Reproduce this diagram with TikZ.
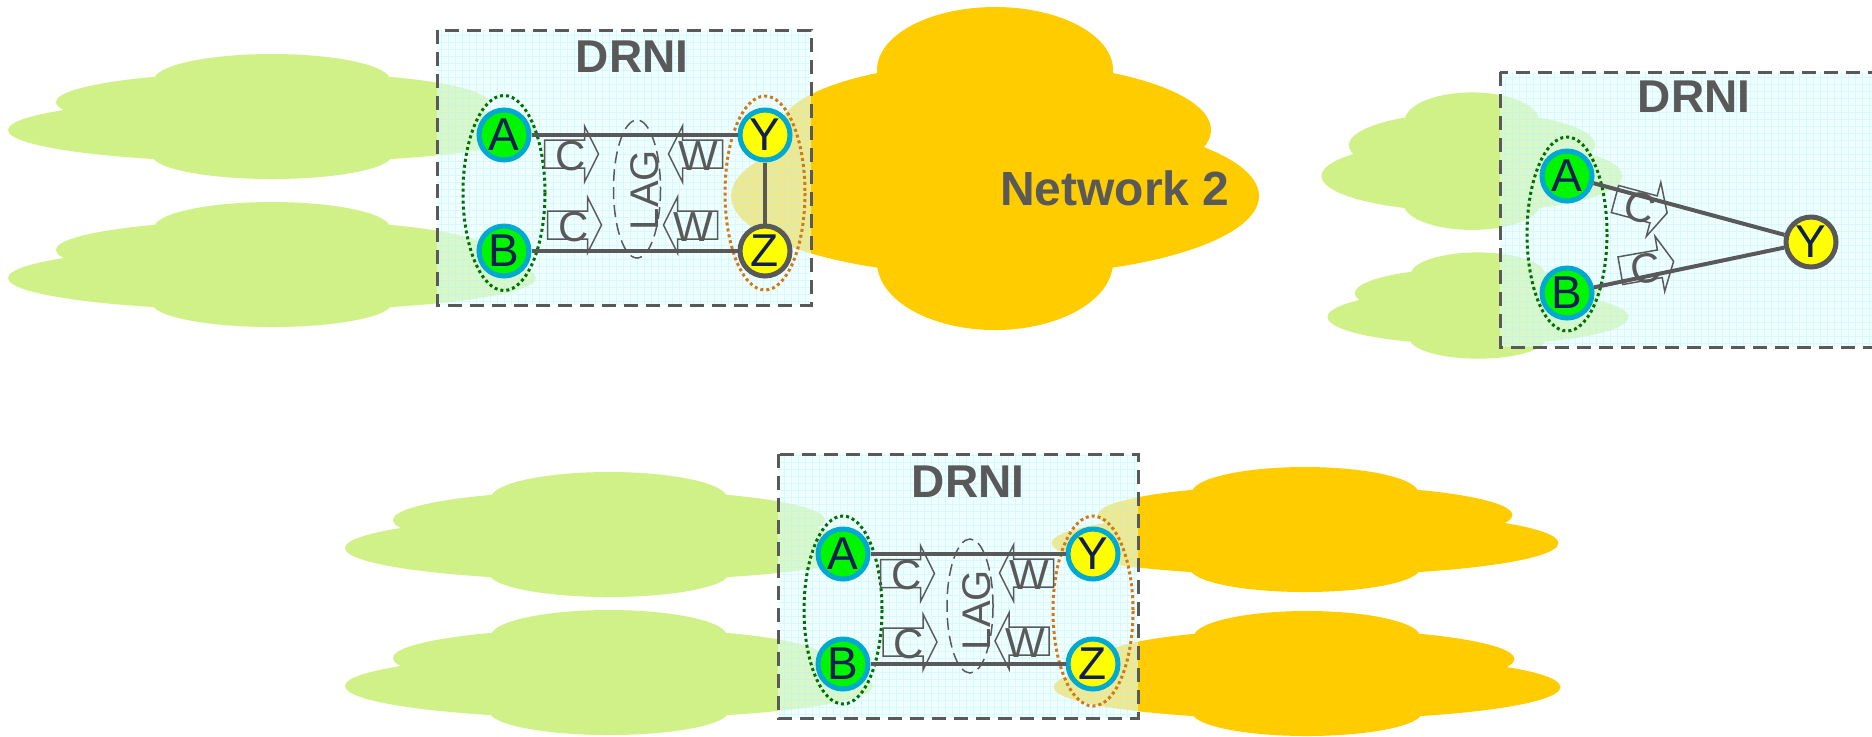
\documentclass[tikz,border=0pt]{standalone}
\usepackage{fontspec}
\setmainfont{Liberation Sans}

\definecolor{cloudgreen}{RGB}{208,240,136}
\definecolor{netorange}{RGB}{255,204,0}
\definecolor{boxcyan}{RGB}{226,255,255}
\definecolor{gridcyan}{RGB}{180,240,255}
\definecolor{ink}{RGB}{89,89,89}
\definecolor{rimcyan}{RGB}{0,168,210}
\definecolor{devgreen}{RGB}{0,245,0}
\definecolor{devyellow}{RGB}{255,255,0}
\definecolor{letter}{RGB}{16,32,84}
\definecolor{dotgreen}{RGB}{0,112,0}
\definecolor{dotorange}{RGB}{210,120,20}

\tikzset{
  % a network cloud: union of four ellipses, centred on the main ellipse
  cloud/.pic={
    \fill (0,0) ellipse [x radius=264, y radius=32.5]
          (0,-28) ellipse [x radius=216, y radius=30]
          (0,-50) ellipse [x radius=118, y radius=26]
          (0,25) ellipse [x radius=120, y radius=24];
  },
  % block arrows carrying a label
  rarrow/.pic={
    \draw[arrowline] (-27,-14) -- (13,-14) -- (13,-28) -- (27,0) -- (13,28) -- (13,14) -- (-27,14) -- cycle;
    \node[arrowtext, transform shape] at (-1,2) {\tikzpictext};
  },
  larrow/.pic={
    \draw[arrowline] (27,-14) -- (-13,-14) -- (-13,-28) -- (-27,0) -- (-13,28) -- (-13,14) -- (27,14) -- cycle;
    \node[arrowtext, transform shape] at (3,2) {\tikzpictext};
  },
  drnibox/.style={draw=ink, line width=1.5pt, dash pattern=on 7pt off 4pt},
  boxfill/.style={fill=boxcyan, fill opacity=0.55},
  gridline/.style={draw=gridcyan, line width=0.3pt, opacity=0.4},
  title/.style={text=ink, inner sep=0pt, font=\bfseries\fontsize{23}{23}\selectfont},
  dev/.style={circle, draw=rimcyan, line width=2.5pt, minimum size=25pt, inner sep=0pt,
              text=letter, font=\fontsize{23}{23}\selectfont},
  devA/.style={dev, fill=devgreen},
  devY/.style={dev, fill=devyellow},
  devYg/.style={devY, draw=ink},
  link/.style={draw=ink, line width=2pt},
  grpgreen/.style={draw=dotgreen, line width=1.5pt, dash pattern=on 1.5pt off 1.5pt},
  grporange/.style={draw=dotorange, line width=1.5pt, dash pattern=on 1.5pt off 1.5pt},
  lag/.style={draw=ink, line width=0.75pt, dash pattern=on 6pt off 3pt},
  lagtext/.style={text=ink, rotate=90, inner sep=0pt, font=\fontsize{20}{20}\selectfont},
  arrowline/.style={draw=ink, line width=0.75pt, line join=miter},
  arrowtext/.style={text=ink, inner sep=0pt, font=\fontsize{21}{21}\selectfont},
}

\begin{document}
\begin{tikzpicture}[x=0.5pt, y=-0.5pt]
\useasboundingbox (0,0) rectangle (1872,736);
\clip (0,0) rectangle (1872,736);

% ---------- clouds ----------
\pic[color=cloudgreen] at (272,130) {cloud};
\pic[color=cloudgreen] at (272,278) {cloud};
\fill[netorange] (995,196) ellipse [x radius=264, y radius=80]
                 (995,130) ellipse [x radius=216, y radius=68]
                 (995,70) ellipse [x radius=118, y radius=63]
                 (995,262) ellipse [x radius=118, y radius=68];
\pic[color=cloudgreen, xscale=0.57, yscale=1.1] at (1472,176) {cloud};
\pic[color=cloudgreen, xscale=0.57, yscale=0.85] at (1478,317) {cloud};
\pic[color=cloudgreen] at (609,548) {cloud};
\pic[color=cloudgreen] at (609,686) {cloud};
\pic[color=netorange, xscale=0.96] at (1305,543) {cloud};
\pic[color=netorange, xscale=0.96] at (1307,687) {cloud};

% ---------- DRNI boxes ----------
\foreach \xa/\ya/\xb/\yb in {437/30/811/305, 1500/72/1900/347, 778/454/1138/718}{
  \path[boxfill] (\xa,\ya) rectangle (\xb,\yb);
  \begin{scope}
    \clip (\xa,\ya) rectangle (\xb,\yb);
    \draw[gridline] (\xa,\yb) grid[step=3.5pt] (\xb,\ya);
  \end{scope}
  \draw[drnibox] (\xa,\ya) rectangle (\xb,\yb);
}

\node[title] (t1) at (632,57) {DRNI};
\node[title] (t2) at (1694,97) {DRNI};
\node[title] (t3) at (968,482) {DRNI};
\node[title, font=\bfseries\fontsize{24}{24}\selectfont] (net2) at (1115,188) {Network 2};

% ---------- top left: two systems ----------
\draw[grpgreen] (504,193) ellipse [x radius=41, y radius=97.5];
\draw[grporange] (765,193) ellipse [x radius=40, y radius=97];
\draw[lag] (637,189) ellipse [x radius=23.5, y radius=69];
\node[lagtext] (lag1) at (645,190) {LAG};

\node[devA] (a1) at (504,135) {A};
\node[devA] (b1) at (504,251) {B};
\node[devY] (y1) at (765,135) {Y};
\node[devYg] (z1) at (765,251) {Z};

\draw[link] (a1) -- (y1);
\draw[link] (b1) -- (z1);
\draw[link] (y1) -- (z1);

\pic[pic text=C] at (571.5,154) {rarrow};
\pic[pic text=C] at (574.5,225) {rarrow};
\pic[pic text=W] at (695.5,154) {larrow};
\pic[pic text=W] at (690.5,225) {larrow};

% ---------- top right: one system ----------
\draw[grpgreen] (1567,234) ellipse [x radius=40, y radius=97];
\node[devA] (a2) at (1567,176) {A};
\node[devA] (b2) at (1567,293) {B};
\node[devYg] (y2) at (1811,242) {Y};
\draw[link] (a2) -- (y2);
\draw[link] (b2) -- (y2);
\pic[pic text=C, rotate=-15] at (1641,206) {rarrow};
\pic[pic text=C, rotate=10] at (1647,266) {rarrow};

% ---------- bottom: two systems, two networks each side ----------
\draw[grpgreen] (843,610) ellipse [x radius=39, y radius=94];
\draw[grporange] (1093,611) ellipse [x radius=40, y radius=95];
\draw[lag] (970,606) ellipse [x radius=23, y radius=67];
\node[lagtext] (lag3) at (977,610) {LAG};

\node[devA] (a3) at (843,554) {A};
\node[devA] (b3) at (843,664) {B};
\node[devY] (y3) at (1093,554) {Y};
\node[devY] (z3) at (1093,664) {Z};

\draw[link] (a3) -- (y3);
\draw[link] (b3) -- (z3);

\pic[pic text=C] at (907.5,573.5) {rarrow};
\pic[pic text=C] at (910,642) {rarrow};
\pic[pic text=W] at (1026.5,573) {larrow};
\pic[pic text=W] at (1022,641) {larrow};
\end{tikzpicture}
\end{document}
